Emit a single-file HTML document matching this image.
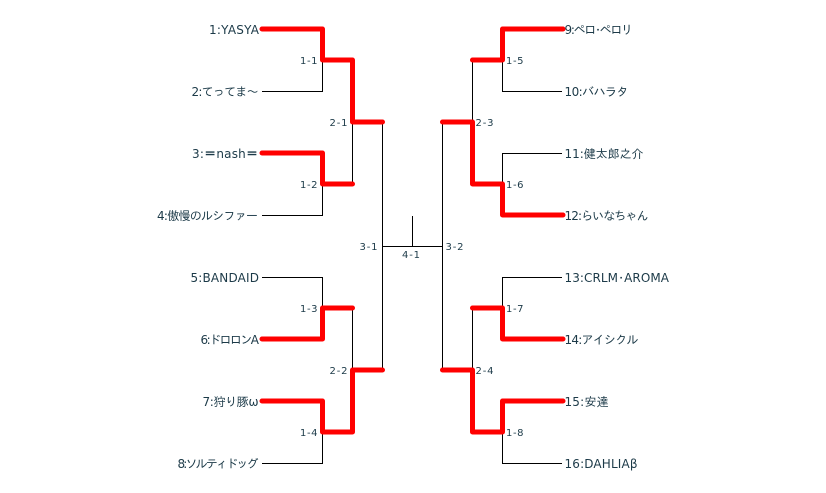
<!DOCTYPE html>
<html><head><meta charset="utf-8">
<style>
html,body{margin:0;padding:0;background:#fff;width:826px;height:493px;overflow:hidden}
svg{display:block}
text{font-family:"DejaVu Sans","IPAGothic","Noto Sans CJK JP",sans-serif;fill:#1c3a48}
.n{font-size:12px}
.m{font-size:10px}
.k{fill:none;stroke:#000;stroke-width:1}
.r{fill:none;stroke:#f00;stroke-width:5;stroke-linecap:round;stroke-linejoin:round}
</style></head><body>
<svg width="826" height="493" viewBox="0 0 826 493" xmlns="http://www.w3.org/2000/svg">
<g class="k">
<path class="k" d="M262 91.500H322.500V60M262 215.500H322.500V184M262 277.500H322.500V308M262 463.500H322.500V432"/>
<path class="k" d="M352.500 184V122M352.500 308V370M382.500 122V370M382.500 246.500H442.500M412.500 216V246.500"/>
<path class="k" d="M562 91.500H502.500V60M562 153.500H502.500V184M562 277.500H502.500V308M562 463.500H502.500V432"/>
<path class="k" d="M472.500 60V122M472.500 308V370M442.500 122V370"/>
</g>
<path class="r" d="M262 29H322.500V60H352.500V122H382.500"/>
<path class="r" d="M262 153H322.500V184H352.500"/>
<path class="r" d="M262 339H322.500V308H352.500"/>
<path class="r" d="M262 401H322.500V432H352.500V370H382.500"/>
<path class="r" d="M563 29H502.500V60H472.500"/>
<path class="r" d="M563 215H502.500V184H472.500V122H442.500"/>
<path class="r" d="M563 339H502.500V308H472.500"/>
<path class="r" d="M563 401H502.500V432H472.500V370H442.500"/>
<g class="n" lengthAdjust="spacing">
<text x="209" y="34" textLength="50">1:YASYA</text>
<text x="191.500" y="96" textLength="67">2:てってま〜</text>
<text x="192" y="158" textLength="66">3:<tspan font-weight="bold">＝</tspan>nash<tspan font-weight="bold">＝</tspan></text>
<text x="157" y="220" textLength="101">4:傲慢のルシファー</text>
<text x="190.500" y="282" textLength="68.500">5:BANDAID</text>
<text x="200.500" y="344" textLength="58.500">6:ドロロンA</text>
<text x="202.500" y="406" textLength="56">7:狩り豚ω</text>
<text x="177.500" y="468" textLength="81">8:ソルティドッグ</text>
<text x="564.500" y="34" textLength="68.500">9:ペロ･ペロリ</text>
<text x="564.500" y="96" textLength="64">10:バハラタ</text>
<text x="564.500" y="158" textLength="79">11:健太郎之介</text>
<text x="564.500" y="220" textLength="84">12:らいなちゃん</text>
<text x="564.500" y="282" textLength="104.500">13:CRLM･AROMA</text>
<text x="564.500" y="344" textLength="74">14:アイシクル</text>
<text x="564.500" y="406" textLength="44">15:安達</text>
<text x="564.500" y="468" textLength="73">16:DAHLIAβ</text>
</g>
<g class="m">
<text x="300" y="64" textLength="17.500">1-1</text>
<text x="300" y="188" textLength="17.500">1-2</text>
<text x="300" y="312" textLength="17.500">1-3</text>
<text x="300" y="436" textLength="17.500">1-4</text>
<text x="329.500" y="126" textLength="18">2-1</text>
<text x="329.500" y="374" textLength="18">2-2</text>
<text x="359.500" y="250" textLength="18">3-1</text>
<text x="506" y="64" textLength="17.500">1-5</text>
<text x="506" y="188" textLength="17.500">1-6</text>
<text x="506" y="312" textLength="17.500">1-7</text>
<text x="506" y="436" textLength="17.500">1-8</text>
<text x="475.500" y="126" textLength="18">2-3</text>
<text x="475.500" y="374" textLength="18">2-4</text>
<text x="445.500" y="250" textLength="18">3-2</text>
<text x="402" y="258" textLength="18">4-1</text>
</g>
</svg>
</body></html>
